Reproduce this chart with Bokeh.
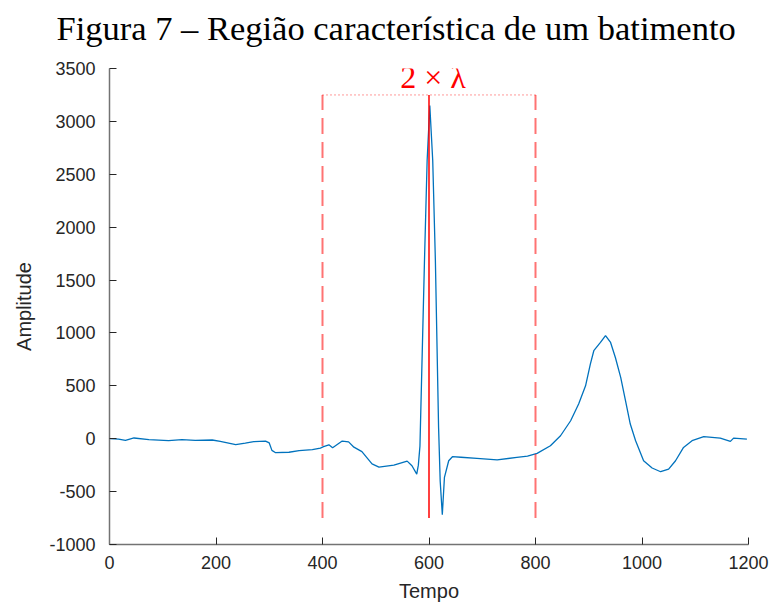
from bokeh.plotting import figure
from bokeh.models import Range1d, FixedTicker, Label
from bokeh.embed import file_html
from bokeh.resources import INLINE

# ---- data ----
tempo = [0, 17, 30, 46, 74, 111, 136, 161, 193, 208, 237, 255, 271, 293, 300, 305, 312,
         337, 356, 381, 396, 402, 412, 419, 437, 449, 459, 474, 493, 506, 534, 559, 568,
         577, 580, 583, 591.5, 596.5, 601.5, 607, 612, 618, 621, 625, 629, 637, 644, 660,
         690, 728, 765, 785, 803, 828, 847, 866, 881, 894, 903, 909.5, 922, 931.5, 941,
         950, 960, 969, 978, 988, 1003, 1019, 1035, 1050, 1063, 1078, 1094, 1116, 1147,
         1166, 1172, 1197]
amplitude = [0, -3, -15, 7, -8, -18, -9, -15, -12, -25, -55, -42, -28, -22, -40, -110, -132,
             -128, -113, -104, -88, -75, -58, -85, -22, -30, -80, -122, -238, -268, -250, -212, -255,
             -335, -250, -70, 1680, 2630, 3150, 2630, 1680, 107, -400, -718, -365, -208, -170, -175,
             -185, -200, -176, -165, -139, -66, 28, 170, 328, 500, 706, 832, 910, 974, 910,
             768, 580, 360, 139, -19, -208, -277, -312, -287, -208, -82, -19, 19, 6,
             -25, 6, -3]

r_peak = 600          # centre of the window
lam = 200             # half-width lambda
window_top = 3250
window_bottom = -750

x_ticks = [0, 200, 400, 600, 800, 1000, 1200]
y_ticks = [-1000, -500, 0, 500, 1000, 1500, 2000, 2500, 3000, 3500]
y_tick_labels = ["-1000", "-500", "0", "500", "1000", "1500", "2000", "2500", "3000", "3500"]

title_text = "Figura 7 – Região característica de um batimento"
x_label = "Tempo"
y_label = "Amplitude"
window_label = "2 × λ"

# ---- figure ----
p = figure(width=769, height=607, output_backend="svg", toolbar_location=None,
           x_range=Range1d(0, 1200), y_range=Range1d(-1000, 3500),
           min_border_left=109, min_border_right=21, min_border_top=68, min_border_bottom=63,
           title=title_text)

p.title.text_font = "Liberation Serif"
p.title.text_font_size = "34.5px"
p.title.text_font_style = "normal"
p.title.text_color = "black"
p.title.align = "left"
p.title.vertical_align = "top"
p.title.offset = -53
try:
    p.title.padding = dict(top=0, right=0, bottom=13, left=0)
    p.title.standoff = 14
except Exception:
    p.title.standoff = 28

p.grid.visible = False
p.outline_line_color = None
p.background_fill_color = "white"
p.border_fill_color = "white"

for ax in (p.xaxis[0], p.yaxis[0]):
    ax.axis_line_color = "#737373"
    ax.axis_line_width = 1.5
    ax.major_tick_line_color = "#262626"
    ax.major_tick_in = 7
    ax.major_tick_out = 0
    ax.minor_tick_line_color = None
    ax.major_label_text_font = "Liberation Sans"
    ax.major_label_text_font_size = "18px"
    ax.major_label_text_color = "#262626"
    ax.axis_label_text_font = "Liberation Sans"
    ax.axis_label_text_font_size = "20px"
    ax.axis_label_text_font_style = "normal"
    ax.axis_label_text_color = "#262626"

p.xaxis.ticker = FixedTicker(ticks=x_ticks)
p.yaxis.ticker = FixedTicker(ticks=y_ticks)
p.yaxis.major_label_overrides = {t: s for t, s in zip(y_ticks, y_tick_labels)}
p.xaxis.major_label_standoff = 11
p.yaxis.major_label_standoff = 14
p.xaxis.axis_label = x_label
p.yaxis.axis_label = y_label
p.xaxis.axis_label_standoff = 8
p.yaxis.axis_label_standoff = 11

# signal
p.line(tempo, amplitude, line_color="#0072BD", line_width=1.3)

# window markers
p.segment(x0=[r_peak - lam, r_peak + lam], y0=[window_bottom, window_bottom],
          x1=[r_peak - lam, r_peak + lam], y1=[window_top, window_top],
          line_color="red", line_alpha=0.55, line_width=2, line_dash="16 8")
p.segment(x0=[r_peak - lam], y0=[window_top], x1=[r_peak + lam], y1=[window_top],
          line_color="red", line_alpha=0.8, line_width=1, line_dash="1 3")
p.segment(x0=[r_peak], y0=[window_bottom], x1=[r_peak], y1=[window_top],
          line_color="red", line_width=1.5)

p.add_layout(Label(x=r_peak, y=window_top, x_offset=4, y_offset=0, text=window_label,
                   text_font="Liberation Serif", text_font_size="32px",
                   text_color="red", text_align="center", text_baseline="bottom"))

open("out.html", "w").write(file_html(p, INLINE))
